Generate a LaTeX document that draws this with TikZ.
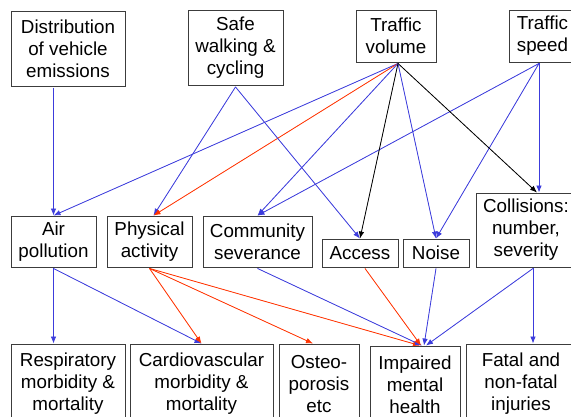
\documentclass[tikz,border=0pt]{standalone}
\usepackage{fontspec}
\setmainfont{Liberation Sans}
\usetikzlibrary{arrows.meta}
\definecolor{myblue}{RGB}{60,60,220}
\definecolor{myred}{RGB}{255,51,0}
\definecolor{boxgray}{RGB}{60,60,60}
\newcommand{\dfont}{\fontsize{18.8}{22}\selectfont}
\tikzset{
  box/.style={draw=boxgray, line width=0.9pt, align=center, inner sep=0pt, font=\dfont, fill=white},
  arr/.style={-{Latex[length=7pt,width=5.5pt]}, line width=0.8pt},
  bl/.style={arr, draw=myblue, fill=myblue},
  rd/.style={arr, draw=myred, fill=myred},
  bk/.style={arr, draw=black, fill=black}
}
\begin{document}
\begin{tikzpicture}[x=1pt,y=-1pt]
\clip (0,0) rectangle (571,417);
\fill[white] (0,0) rectangle (571,417);
% top row
\node[box, minimum width=114pt, minimum height=75pt] (dist) at (68,48.5) {Distribution\\of vehicle\\emissions};
\node[box, minimum width=95pt, minimum height=75pt] (safe) at (235.5,47.5) {Safe\\walking \&\\cycling};
\node[box, minimum width=80pt, minimum height=52pt] (vol) at (396,36) {Traffic\\volume};
\node[box, minimum width=67pt, minimum height=52pt] (speed) at (542.5,36) {Traffic\\speed};
% middle row
\node[box, minimum width=85pt, minimum height=51pt] (air) at (53.5,241.5) {Air\\pollution};
\node[box, minimum width=85pt, minimum height=51pt] (phys) at (149.5,241.5) {Physical\\activity};
\node[box, minimum width=109pt, minimum height=51pt] (comm) at (257.5,241.5) {Community\\severance};
\node[box, minimum width=76pt, minimum height=28pt] (access) at (360,253) {Access};
\node[box, minimum width=66pt, minimum height=28pt] (noise) at (436,253) {Noise};
\node[box, minimum width=100pt, minimum height=74pt] (coll) at (526,230) {Collisions:\\number,\\severity};
% bottom row
\node[box, minimum width=114pt, minimum height=80pt] (resp) at (68,384) {Respiratory\\morbidity \&\\mortality};
\node[box, minimum width=143pt, minimum height=80pt] (cardio) at (201.5,384) {Cardiovascular\\morbidity \&\\mortality};
\node[box, minimum width=80pt, minimum height=80pt] (osteo) at (319,384) {Osteo-\\porosis\\etc};
\node[box, minimum width=90pt, minimum height=78pt] (imp) at (415,385) {Impaired\\mental\\health};
\node[box, minimum width=110pt, minimum height=80pt] (fatal) at (521,384) {Fatal and\\non-fatal\\injuries};
% connector anchor points
\coordinate (distS) at ([yshift=-1.5pt]dist.south -| air.north);
\coordinate (safeS) at ([yshift=-1.5pt]safe.south);
\coordinate (volS) at ([xshift=2pt,yshift=-1pt]vol.south);
\coordinate (speedS) at ([xshift=-3.5pt,yshift=-1pt]speed.south);
\coordinate (collT) at (coll.north -| speedS);
\coordinate (collTv) at ([xshift=11pt]coll.north);
\coordinate (collS) at ([xshift=7pt,yshift=-1pt]coll.south);
\coordinate (airS) at ([yshift=-1pt]air.south);
\coordinate (physS) at ([yshift=-1pt]phys.south);
\coordinate (physT) at ([xshift=4pt]phys.north);
\coordinate (commS) at ([yshift=-1pt]comm.south);
\coordinate (accS) at ([xshift=5pt,yshift=-1pt]access.south);
\coordinate (noiseS) at ([yshift=-1pt]noise.south);
\coordinate (respT) at (resp.north -| air.south);
\coordinate (osteoT) at ([xshift=-6pt]osteo.north);
\coordinate (impT) at ([xshift=7pt]imp.north);
\coordinate (fatalT) at (fatal.north -| collS);
% top to middle
\draw[bl] (distS) -- (air.north);
\draw[bl] (volS) -- (air.north);
\draw[bl] (safeS) -- (physT);
\draw[rd] (volS) -- (physT);
\draw[bl] (safeS) -- (access.north);
\draw[bl] (volS) -- (comm.north);
\draw[bl] (speedS) -- (comm.north);
\draw[bk] (volS) -- (access.north);
\draw[bl] (volS) -- (noise.north);
\draw[bl] (speedS) -- (noise.north);
\draw[bk] (volS) -- (collTv);
\draw[bl] (speedS) -- (collT);
% middle to bottom
\draw[bl] (airS) -- (respT);
\draw[bl] (airS) -- (cardio.north);
\draw[rd] (physS) -- (cardio.north);
\draw[rd] (physS) -- (osteoT);
\draw[rd] (physS) -- ([xshift=-2pt]impT);
\draw[bl] (commS) -- (impT);
\draw[rd] (accS) -- ([xshift=-1pt]impT);
\draw[bl] (noiseS) -- ([xshift=2pt]impT);
\draw[bl] (collS) -- ([xshift=4pt]impT);
\draw[bl] (collS) -- (fatalT);
\end{tikzpicture}
\end{document}
